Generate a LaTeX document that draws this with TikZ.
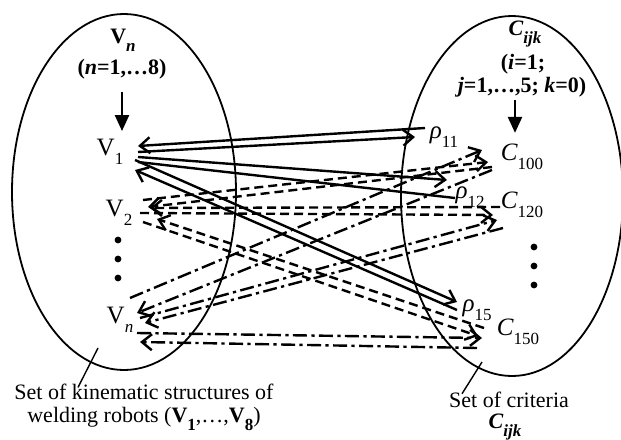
\documentclass[tikz,border=0pt]{standalone}
\usepackage{fontspec}
\setmainfont{Liberation Serif}
\usetikzlibrary{arrows.meta, calc, positioning}
\newcommand{\lowsub}[1]{\raisebox{-0.35em}{\fontsize{8.5}{9}\selectfont #1}}
\tikzset{
  setellipse/.style={line width=0.9pt},
  element/.style={inner sep=0pt, font=\fontsize{12.5}{14}\selectfont},
  settitle/.style={inner sep=0pt, font=\fontsize{11}{13}\selectfont\bfseries, align=center},
  caption/.style={inner sep=0pt, font=\fontsize{11}{11.5}\selectfont, align=center},
  vertarrow/.style={line width=1.2pt, -{Triangle[length=8pt,width=7pt]}},
  solidlink/.style={line width=1.2pt, -{Straight Barb[length=5pt,width=8pt]}},
  dashlink/.style={solidlink, dash pattern=on 4.5pt off 2.5pt},
  dotdashlink/.style={solidlink, dash pattern=on 7pt off 2.2pt on 1.6pt off 2.2pt},
  pointer/.style={line width=0.7pt}
}

\begin{document}
\begin{tikzpicture}[x=0.5pt, y=-0.5pt]
    \useasboundingbox (0,0) rectangle (621,439);

    % the two sets
    \draw [setellipse] (124,192) ellipse [x radius=56pt, y radius=89pt];
    \draw [setellipse] (512,196) ellipse [x radius=55.5pt, y radius=90pt];

    % titles
    \node (vtitle) [settitle] at (123,40) {V\lowsub{\textit{n}}};
    \node (vrange) [settitle] at (122,69) {(\textit{n}=1,\ldots8)};
    \node (ctitle) [settitle] at (525,34) {\textit{C}\lowsub{\textit{ijk}}};
    \node (crange1) [settitle] at (523,64) {(\textit{i}=1;};
    \node (crange2) [settitle] at (522,87) {\textit{j}=1,\ldots,5; \textit{k}=0)};
    \coordinate (vtop) at (122,92);
    \coordinate (ctop) at (515,100);

    % elements
    \node (V1) [element] at (110,152) {V\lowsub{1}};
    \node (V2) [element] at (119,213) {V\lowsub{2}};
    \node (Vn) [element] at (120,320) {V\lowsub{\textit{n}}};
    \node (rho11) [element] at (444,137) {\textit{ρ}\lowsub{11}};
    \node (rho12) [element] at (470,197) {\textit{ρ}\lowsub{12}};
    \node (rho15) [element] at (477,310) {\textit{ρ}\lowsub{15}};
    \node (C100) [element] at (522,157) {\textit{C}\lowsub{100}};
    \node (C120) [element] at (522,205) {\textit{C}\lowsub{120}};
    \node (C150) [element] at (518,332) {\textit{C}\lowsub{150}};

    \fill (118,240) circle [radius=1.7pt];
    \fill (118,259) circle [radius=1.7pt];
    \fill (118,278) circle [radius=1.7pt];
    \fill (534,247) circle [radius=1.7pt];
    \fill (534,266) circle [radius=1.7pt];
    \fill (534,285) circle [radius=1.7pt];

    \draw [vertarrow] (vtop) -- ($(V1.north)+(12,-8)$);
    \draw [vertarrow] (ctop) -- ($(C100.north)+(-7,-11)$);

    % V1 -- rho
    \draw [solidlink] ($(rho11)+(-19,-9)$) -- ($(V1)+(28,-6)$);
    \draw [solidlink] ($(V1)+(28,0)$) -- ($(rho11)+(-29,0)$);
    \draw [solidlink] ($(V1)+(28,5)$) -- ($(rho12)+(-23,-17)$);
    \draw [solidlink, -] ($(rho12)+(-15,1)$) -- ($(V1)+(28,10)$);
    \draw [solidlink] ($(V1)+(25,8)$) -- ($(rho15)+(-20,-8)$);
    \draw [solidlink] ($(rho15)+(-20,0)$) -- ($(V1)+(25,18)$);

    % V2 -- C
    \draw [dashlink] ($(V2)+(24,-13)$) -- ($(C100)+(-34,5)$);
    \draw [dashlink] ($(C100)+(-30,10)$) -- ($(V2)+(29,-6)$);
    \draw [dashlink] ($(C120)+(-22,2)$) -- ($(V2)+(31,-5)$);
    \draw [dashlink] ($(V2)+(21,0)$) -- ($(C120)+(-29,10)$);
    \draw [dashlink] ($(V2)+(24,9)$) -- ($(C150)+(-40,4)$);
    \draw [dashlink] ($(C150)+(-34,-4)$) -- ($(V2)+(38,6)$);

    % Vn -- C
    \draw [dotdashlink] ($(Vn)+(10,-22)$) -- ($(C100)+(-40,-7)$);
    \draw [dotdashlink] ($(C100)+(-30,13)$) -- ($(Vn)+(17,-7)$);
    \draw [dotdashlink] ($(Vn)+(20,-2)$) -- ($(C120)+(-25,15)$);
    \draw [dotdashlink] ($(C120)+(-19,23)$) -- ($(Vn)+(25,3)$);
    \draw [dotdashlink] ($(Vn)+(17,13)$) -- ($(C150)+(-36,6)$);
    \draw [dotdashlink] ($(C150)+(-41,16)$) -- ($(Vn)+(20,22)$);

    % captions
    \node (vcaption) [caption] at (144,407) {Set of kinematic structures of\\welding robots (\textbf{V\lowsub{1}},\ldots,\textbf{V\lowsub{8}})};
    \node (ccaption) [caption] at (509,400) {Set of criteria};
    \node (csymbol) [settitle] at (505,427) {\textit{C}\lowsub{\textit{ijk}}};
    \coordinate (vpoint) at (98,348);
    \coordinate (cpoint) at (482,362);
    \draw [pointer] (vpoint) -- ($(vcaption.north)+(-66,4)$);
    \draw [pointer] (cpoint) -- ($(ccaption.north)+(-47,2)$);
\end{tikzpicture}
\end{document}
